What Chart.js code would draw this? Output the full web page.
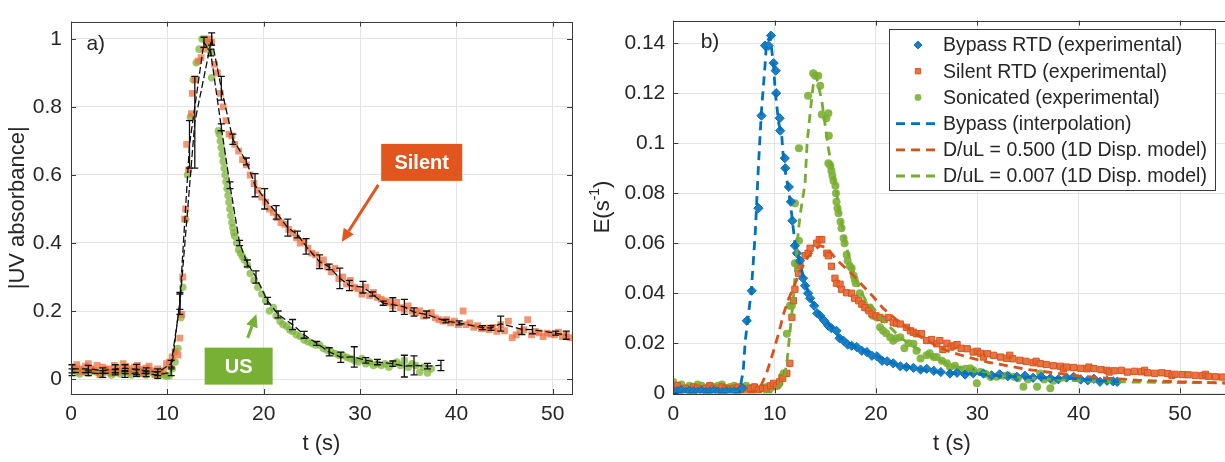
<!DOCTYPE html>
<html>
<head>
<meta charset="utf-8">
<script src="https://cdn.jsdelivr.net/npm/chart.js@4.4.1/dist/chart.umd.min.js"></script>
<style>
  html, body { margin: 0; padding: 0; background: #fff; overflow: hidden; width: 1225px; height: 462px; }
  #wrapA { position: absolute; left: 0; top: 0; }
  #wrapB { position: absolute; left: 578px; top: 0; }
</style>
</head>
<body>
<div id="wrapA"><canvas id="chartA" width="612" height="462"></canvas></div>
<div id="wrapB"><canvas id="chartB" width="662" height="462"></canvas></div>
<script>
// ---------- panel a) ----------
const xTicksA = [0, 10, 20, 30, 40, 50];
const xTickLabelsA = ['0', '10', '20', '30', '40', '50'];
const yTicksA = [0, 0.2, 0.4, 0.6, 0.8, 1];
const yTickLabelsA = ['0', '0.2', '0.4', '0.6', '0.8', '1'];

// [t, value]
const silentPtsA = [
  [0.0,0.035],[0.3,0.028],[0.6,0.042],[0.9,0.03],[1.2,0.022],[1.5,0.038],[1.8,0.045],[2.1,0.03],[2.4,0.025],[2.7,0.04],
  [3.0,0.012],[3.3,0.035],[3.6,0.028],[3.9,0.03],[4.2,0.018],[4.5,0.04],[4.8,0.032],[5.1,0.025],[5.4,0.045],[5.7,0.038],
  [6.0,0.03],[6.3,0.022],[6.6,0.035],[6.9,0.04],[7.2,0.028],[7.5,0.015],[7.8,0.032],[8.1,0.038],[8.4,0.025],[8.7,0.012],
  [9.0,0.03],[9.3,0.02],[9.6,0.025],[9.9,0.045],
  [10.2,0.05],[10.5,0.065],[10.8,0.08],[11.1,0.07],[11.3,0.12],[11.5,0.19],[11.6,0.3],[11.8,0.47],[11.9,0.5],[12.0,0.69],
  [12.2,0.615],[12.5,0.78],[12.6,0.84],[12.9,0.88],[13.2,0.935],[13.5,0.945],[13.8,0.97],[14.1,0.99],[14.4,1.0],[14.6,0.99],
  [14.9,0.925],[15.2,0.9],[15.5,0.84],[15.8,0.8],[16.1,0.76],[16.4,0.72],[16.7,0.715],[17.0,0.69],[17.4,0.67],[17.8,0.645],
  [18.2,0.63],[18.6,0.6],[19.0,0.575],[19.4,0.555],[19.8,0.535],[20.2,0.52],[20.6,0.5],[21.0,0.49],[21.4,0.475],[21.8,0.46],
  [22.2,0.455],[22.6,0.44],[23.0,0.43],[23.4,0.415],[23.8,0.4],[24.2,0.405],[24.6,0.385],[25.0,0.37],[25.4,0.365],[25.8,0.34],
  [26.2,0.35],[26.6,0.33],[27.0,0.315],[27.4,0.325],[27.8,0.295],[28.2,0.3],[28.6,0.28],[29.0,0.29],[29.4,0.27],[29.8,0.265],
  [30.2,0.25],[30.6,0.27],[31.0,0.245],[31.4,0.255],[31.8,0.24],[32.2,0.235],[32.6,0.23],[33.0,0.225],[33.4,0.215],[33.8,0.225],
  [34.2,0.21],[34.6,0.205],[35.0,0.215],[35.4,0.2],[35.8,0.195],[36.2,0.2],[36.6,0.185],[37.0,0.19],[37.4,0.195],[37.8,0.18],
  [38.2,0.175],[38.6,0.17],[39.0,0.175],[39.4,0.165],[39.8,0.17],[40.2,0.16],[40.7,0.2],[41.0,0.16],[41.4,0.165],[41.8,0.152],
  [42.2,0.157],[42.6,0.148],[43.0,0.15],[43.4,0.145],[43.8,0.152],[44.2,0.14],[44.6,0.16],[45.0,0.142],[45.4,0.17],[45.8,0.122],
  [46.2,0.13],[46.6,0.14],[47.0,0.145],[47.4,0.175],[47.8,0.13],[48.2,0.14],[48.6,0.136],[49.0,0.125],[49.4,0.135],[49.8,0.132],
  [50.2,0.13],[50.6,0.138],[51.0,0.125],[51.4,0.13],[51.8,0.122]
];

const usPtsA = [
  [0.0,0.035],[0.3,0.03],[0.6,0.02],[0.9,0.015],[1.2,0.025],[1.5,0.02],[1.8,0.018],[2.1,0.028],[2.4,0.022],[2.7,0.02],
  [3.0,0.015],[3.3,0.018],[3.6,0.025],[3.9,0.02],[4.2,0.012],[4.5,0.018],[4.8,0.022],[5.1,0.015],[5.4,0.02],[5.7,0.025],
  [6.0,0.018],[6.3,0.012],[6.6,0.02],[6.9,0.015],[7.2,0.022],[7.5,0.018],[7.8,0.012],[8.1,0.025],[8.4,0.02],[8.7,0.015],
  [9.0,0.01],[9.3,0.018],[9.6,0.012],[9.9,0.008],
  [10.2,0.01],[10.5,0.03],[10.8,0.05],[11.1,0.09],[11.4,0.18],[11.6,0.27],[11.9,0.47],[12.1,0.6],[12.4,0.77],[12.7,0.88],
  [13.0,0.93],[13.3,0.97],[13.6,1.0],[13.9,1.0],[14.2,0.98],[14.5,0.96],[14.6,0.886],[15.3,0.73],[15.4,0.72],[15.5,0.7],
  [15.6,0.68],[15.7,0.66],[15.8,0.64],[15.9,0.62],[16.0,0.6],[16.1,0.58],[16.2,0.56],[16.3,0.54],[16.4,0.52],[16.5,0.5],
  [16.6,0.48],[16.7,0.46],[16.8,0.445],[16.9,0.43],[17.0,0.42],[17.2,0.4],[17.4,0.38],[17.6,0.37],[17.8,0.36],[18.0,0.35],
  [18.3,0.335],[18.6,0.31],[19.0,0.29],[19.4,0.27],[19.8,0.25],[20.2,0.23],[20.6,0.2],[21.0,0.21],[21.3,0.185],[21.7,0.17],
  [22.0,0.16],[22.4,0.155],[22.7,0.145],[23.0,0.14],[23.4,0.13],[23.8,0.125],[24.2,0.115],[24.6,0.11],[25.0,0.105],[25.4,0.1],
  [25.8,0.1],[26.2,0.09],[26.6,0.085],[27.0,0.08],[27.4,0.075],[27.8,0.07],[28.2,0.07],[28.6,0.064],[29.0,0.06],[29.4,0.055],
  [29.8,0.05],[30.2,0.06],[30.6,0.045],[31.0,0.05],[31.4,0.04],[31.8,0.045],[32.2,0.04],[32.6,0.045],[33.0,0.035],[33.4,0.045],
  [33.8,0.05],[34.2,0.04],[34.6,0.055],[35.0,0.035],[35.4,0.045],[35.8,0.04],[36.2,0.02],[36.6,0.035],[37.0,0.018],[37.4,0.03]
];

// [t, mean, error]
const silentMeanA = [
  [0.1,0.03,0.012],[1.8,0.03,0.01],[3.3,0.025,0.008],[4.6,0.03,0.012],[5.6,0.032,0.01],[6.8,0.028,0.015],[7.8,0.025,0.008],
  [9.0,0.02,0.01],[10.4,0.045,0.01],[11.3,0.22,0.03],[12.85,0.755,0.135],[14.6,1.0,0.018],[15.6,0.855,0.035],[16.8,0.705,0.015],
  [18.2,0.64,0.01],[19.1,0.57,0.034],[20.1,0.53,0.03],[21.3,0.49,0.02],[22.5,0.445,0.025],[23.5,0.425,0.01],[24.4,0.39,0.023],
  [25.8,0.345,0.02],[26.8,0.33,0.008],[27.9,0.296,0.03],[28.9,0.275,0.015],[30.3,0.27,0.017],[31.3,0.25,0.006],[32.4,0.223,0.006],
  [33.4,0.219,0.02],[34.6,0.212,0.022],[35.6,0.197,0.012],[36.9,0.19,0.01],[38.9,0.17,0.005],[40.3,0.165,0.006],[42.7,0.151,0.006],
  [43.6,0.15,0.007],[44.6,0.163,0.022],[46.8,0.146,0.015],[47.9,0.145,0.012],[50.3,0.135,0.006],[51.4,0.129,0.012]
];
const usMeanA = [
  [0.1,0.02,0.01],[1.8,0.018,0.008],[3.3,0.015,0.01],[4.6,0.02,0.008],[5.6,0.015,0.01],[6.8,0.018,0.01],[7.8,0.015,0.008],
  [9.0,0.012,0.01],[10.4,0.02,0.01],[11.3,0.23,0.025],[12.3,0.69,0.07],[13.8,0.99,0.015],[14.5,0.96,0.01],[15.6,0.74,0.01],
  [16.5,0.57,0.01],[17.5,0.4,0.008],[18.3,0.34,0.01],[19.2,0.3,0.018],[20.4,0.23,0.01],[21.5,0.19,0.01],[23.0,0.16,0.015],
  [24.2,0.13,0.01],[25.5,0.105,0.006],[26.8,0.08,0.012],[28.0,0.064,0.015],[29.4,0.065,0.03],[30.6,0.055,0.008],[31.8,0.05,0.008],
  [33.4,0.045,0.008],[34.6,0.038,0.032],[35.6,0.04,0.028],[37.0,0.038,0.008],[38.4,0.04,0.015]
];

// ---------- panel b) ----------
const xTicksB = [0, 10, 20, 30, 40, 50];
const xTickLabelsB = ['0', '10', '20', '30', '40', '50'];
const yTicksB = [0, 0.02, 0.04, 0.06, 0.08, 0.1, 0.12, 0.14];
const yTickLabelsB = ['0', '0.02', '0.04', '0.06', '0.08', '0.1', '0.12', '0.14'];
const legendLabelsB = [
  'Bypass RTD (experimental)', 'Silent RTD (experimental)', 'Sonicated (experimental)',
  'Bypass (interpolation)', 'D/uL = 0.500 (1D Disp. model)', 'D/uL = 0.007 (1D Disp. model)'
];

const bypassPts = [
  [0,0.001],[0.4,0.0008],[0.8,0.0012],[1.2,0.0005],[1.6,0.001],[2.0,0.0008],[2.4,0.0006],[2.8,0.001],[3.2,0.0005],[3.6,0.0008],
  [4.0,0.001],[4.4,0.0006],[4.8,0.0004],[5.2,0.0008],[5.6,0.0005],[6.0,0.0007],[6.4,0.0006],
  [6.8,0.002],[7.25,0.029],[7.74,0.041],[8.4,0.074],[8.7,0.111],[9.05,0.139],[9.4,0.139],[9.64,0.143],[9.9,0.132],[10.1,0.129],
  [10.15,0.12],[10.5,0.11],[10.55,0.105],[11.0,0.094],[11.05,0.09],[11.4,0.0825],[11.6,0.0766],[11.75,0.069],[12.0,0.059],[12.2,0.056],
  [12.5,0.053],[12.8,0.046],[13.0,0.043],[13.3,0.04],[13.5,0.038],[13.9,0.035],[14.2,0.032],[14.5,0.031],[14.9,0.029],[15.3,0.027],
  [15.6,0.026],[16.1,0.025],[16.4,0.022],[16.8,0.021],[17.2,0.0195],[17.6,0.019],[18.1,0.0185],[18.6,0.017],[19.1,0.0165],[19.6,0.015],
  [20.1,0.0148],[20.6,0.013],[21.1,0.0128],[21.7,0.012],[22.4,0.0108],[23.0,0.0105],[23.7,0.0102],[24.4,0.0095],[25.0,0.0098],[25.7,0.009],
  [26.4,0.0085],[27.3,0.0079],[28.0,0.0082],[28.8,0.0075],[29.6,0.008],[30.6,0.0079],[31.4,0.0072],[32.2,0.0076],[33.0,0.0068],[33.9,0.0066],
  [34.7,0.007],[35.5,0.0062],[36.3,0.0066],[37.2,0.006],[38.0,0.0056],[38.8,0.0063],[39.5,0.0066],[40.2,0.0055],[40.9,0.0052],[41.5,0.0058],
  [42.1,0.0046],[42.8,0.005],[43.4,0.0048],[43.8,0.0046]
];
const silentPtsB = [
  [0,0.002],[0.4,0.003],[0.8,0.0015],[1.2,0.002],[1.6,0.001],[2.0,0.0025],[2.4,0.002],[2.8,0.0015],[3.2,0.002],[3.6,0.003],
  [4.0,0.002],[4.4,0.001],[4.8,0.0025],[5.2,0.002],[5.6,0.0015],[6.0,0.002],[6.4,0.0025],[6.8,0.002],[7.2,0.001],[7.6,0.002],
  [8.0,0.0025],[8.4,0.0015],[8.8,0.002],[9.2,0.002],[9.6,0.003],
  [9.9,0.004],[10.2,0.003],[10.5,0.0046],[10.8,0.006],[11.2,0.008],[11.5,0.012],[11.7,0.0304],[11.85,0.037],[12.0,0.0416],[12.35,0.048],
  [12.5,0.051],[13.0,0.055],[13.3,0.056],[13.5,0.058],[14.15,0.06],[14.4,0.0614],[14.65,0.0614],[15.15,0.056],[15.3,0.055],[15.6,0.0508],
  [15.95,0.046],[16.1,0.044],[16.45,0.0436],[16.6,0.0416],[17.1,0.0402],[17.6,0.04],[17.9,0.038],[18.3,0.037],[18.6,0.0356],[18.9,0.0343],
  [19.3,0.033],[19.6,0.0317],[20.0,0.031],[20.4,0.0303],[20.8,0.0295],[21.2,0.0303],[21.7,0.0284],[22.0,0.028],[22.4,0.0277],[23.0,0.0264],
  [23.4,0.025],[23.7,0.0244],[24.0,0.0238],[24.5,0.0238],[25.0,0.0211],[25.5,0.0215],[26.0,0.0198],[26.3,0.0211],[26.6,0.0175],[27.0,0.02],
  [27.4,0.0185],[27.7,0.019],[28.0,0.0195],[28.4,0.018],[29.0,0.0178],[29.6,0.0165],[30.0,0.0168],[30.3,0.016],[30.6,0.0145],[31.0,0.0158],
  [31.6,0.0152],[32.3,0.0145],[32.9,0.014],[33.2,0.0152],[33.5,0.0138],[34.2,0.0132],[34.8,0.0128],[35.5,0.0122],[35.8,0.0128],[36.2,0.0119],
  [36.8,0.0115],[37.5,0.011],[38.2,0.0108],[38.5,0.0098],[38.8,0.0105],[39.5,0.0103],[40.2,0.01],[40.8,0.0098],[41.0,0.0105],[41.5,0.0099],
  [42.2,0.0095],[42.8,0.0092],[43.0,0.0085],[43.5,0.009],[44.2,0.0092],[44.8,0.0085],[45.5,0.0088],[46.2,0.0086],[46.5,0.0092],[46.8,0.0082],
  [47.5,0.008],[48.2,0.0082],[48.8,0.0079],[49.2,0.0072],[49.5,0.0076],[50.2,0.0075],[50.8,0.0074],[51.5,0.0072],[52.2,0.007],[52.5,0.0076],
  [52.8,0.0068],[53.5,0.0066],[54.2,0.0065],[54.8,0.0064]
];
const sonicPts = [
  [0,0.0045],[0.4,0.003],[0.8,0.0035],[1.2,0.002],[1.6,0.003],[2.0,0.0025],[2.4,0.0035],[2.8,0.003],[3.2,0.002],[3.6,0.003],
  [4.0,0.0025],[4.4,0.003],[4.8,0.0035],[5.2,0.002],[5.6,0.0025],[6.0,0.003],[6.4,0.002],[6.8,0.0025],[7.2,0.003],[7.6,0.002],
  [8.0,0.0025],[8.4,0.0015],[8.8,0.002],[9.2,0.0025],[9.6,0.002],[10.0,0.003],[10.4,0.0035],
  [10.7,0.0066],[10.9,0.008],[11.2,0.0238],[11.5,0.035],[11.7,0.035],[12.0,0.052],[12.2,0.0515],[12.4,0.061],[12.0,0.076],[12.4,0.098],
  [13.3,0.119],[13.8,0.128],[14.0,0.127],[14.3,0.127],[14.5,0.123],[14.65,0.1115],[15.1,0.11],[15.3,0.112],[15.35,0.103],[15.3,0.092],
  [15.5,0.091],[15.6,0.089],[15.7,0.087],[15.8,0.085],[16.0,0.083],[16.05,0.08],[16.1,0.0766],[16.2,0.074],[16.3,0.072],[16.5,0.0686],
  [16.6,0.066],[16.8,0.062],[16.9,0.06],[17.1,0.0554],[17.2,0.053],[17.4,0.051],[17.6,0.05],[17.8,0.047],[17.9,0.0455],[18.0,0.044],
  [18.4,0.04],[18.8,0.036],[19.1,0.034],[19.4,0.0343],[19.7,0.031],[20.1,0.0303],[20.4,0.0264],[20.7,0.025],[21.0,0.024],[21.4,0.0224],
  [21.7,0.021],[22.0,0.022],[22.4,0.0224],[22.8,0.018],[23.2,0.02],[23.7,0.0198],[24.0,0.017],[24.4,0.0139],[25.0,0.0152],[25.3,0.016],
  [25.7,0.0145],[26.0,0.0145],[26.5,0.013],[27.0,0.012],[27.3,0.0105],[27.8,0.011],[28.3,0.0095],[28.8,0.0098],[29.3,0.01],[29.6,0.0092],
  [29.95,0.004],[30.3,0.0085],[30.8,0.0078],[31.3,0.0065],[31.9,0.0066],[32.5,0.007],[33.0,0.0072],[33.6,0.0066],[34.0,0.006],[34.55,0.0026],
  [35.0,0.0055],[35.9,0.0026],[36.2,0.0079],[36.6,0.0055],[37.2,0.002],[37.5,0.005]
];
const bypassInterp = [
  [0,0],[3,0],[6.5,0],[6.9,0.009],[7.1,0.021],[7.7,0.041],[8.1,0.065],[8.4,0.091],[8.7,0.113],[9.05,0.131],[9.2,0.14],[9.55,0.1426],
  [9.9,0.131],[10.05,0.121],[10.4,0.108],[10.7,0.103],[10.9,0.092],[11.35,0.082],[11.7,0.071],[12.0,0.06],[12.5,0.052],[13.0,0.044],
  [13.5,0.038],[14.5,0.031],[15.5,0.027],[16.5,0.022],[18,0.0185],[20,0.015],[22,0.0115],[24,0.0098],[26,0.0085],[28,0.0079],
  [30,0.0077],[33,0.0068],[36,0.0062],[39,0.006],[42,0.005],[44,0.0047]
];
const silentModel = [
  [0,0],[4,0],[8,0.0005],[8.6,0.0026],[9.2,0.008],[9.9,0.017],[10.4,0.024],[10.9,0.032],[11.4,0.038],[11.85,0.042],[12.5,0.049],
  [13.2,0.054],[13.8,0.057],[14.5,0.059],[15.2,0.058],[16.1,0.0535],[17.0,0.05],[17.8,0.047],[18.7,0.043],[19.75,0.0385],[20.7,0.034],
  [22,0.0295],[23.5,0.025],[25,0.021],[27,0.017],[29,0.0145],[31,0.0125],[33,0.011],[35,0.0095],[37.5,0.0082],[40,0.007],
  [43,0.006],[46,0.0052],[50,0.0046],[55,0.004]
];
const sonicModel = [
  [0,0],[5,0],[10,0.0003],[10.9,0.006],[11.2,0.012],[11.5,0.024],[11.85,0.038],[12.3,0.063],[12.5,0.071],[13.0,0.084],[13.2,0.1],
  [13.5,0.112],[13.8,0.123],[14.1,0.127],[14.65,0.117],[15.3,0.098],[16.0,0.083],[16.5,0.07],[17.0,0.06],[17.5,0.052],[18.0,0.046],
  [18.5,0.041],[19.0,0.037],[19.75,0.034],[20.5,0.03],[21.5,0.026],[22.5,0.022],[24,0.018],[26,0.0135],[28,0.0105],[30,0.0085],
  [33,0.0068],[36,0.0058],[40,0.005],[45,0.0045],[50,0.0043],[55,0.0042]
];

// ---------- helpers ----------
const FONT = "'Liberation Sans', Arial, Helvetica, sans-serif";
const TXT = '#262626';
const BLUE = '#0072BD', ORANGE = '#D95319', GREEN = '#77AC30';

function pts(arr) { return arr.map(p => ({ x: p[0], y: p[1] })); }

function axis(min, max, ticks, labels, size, isX, pad) {
  return {
    type: 'linear', min: min, max: max,
    grid: { color: '#e4e4e4', lineWidth: 1, drawTicks: false },
    border: { display: false },
    ticks: {
      font: { family: FONT, size: 21 }, color: TXT, padding: pad,
      maxRotation: 0, autoSkip: false,
      callback: (v, i) => labels[i]
    },
    afterBuildTicks: s => { s.ticks = ticks.map(v => ({ value: v })); },
    afterFit: s => { if (isX) s.height = size; else s.width = size; }
  };
}

// box around the plot plus inward tick marks on all four sides
const frameTicks = {
  id: 'frameTicks',
  afterDraw(chart) {
    const { ctx, chartArea: a, scales: { x, y } } = chart;
    ctx.save();
    ctx.strokeStyle = '#3a3a3a';
    ctx.lineWidth = 1;
    ctx.setLineDash([]);
    ctx.beginPath();
    x.ticks.forEach(t => {
      const px = Math.round(x.getPixelForValue(t.value)) + 0.5;
      ctx.moveTo(px, a.bottom); ctx.lineTo(px, a.bottom - 5);
      ctx.moveTo(px, a.top); ctx.lineTo(px, a.top + 5);
    });
    y.ticks.forEach(t => {
      const py = Math.round(y.getPixelForValue(t.value)) + 0.5;
      ctx.moveTo(a.left, py); ctx.lineTo(a.left + 5, py);
      ctx.moveTo(a.right, py); ctx.lineTo(a.right - 5, py);
    });
    ctx.stroke();
    ctx.strokeRect(Math.round(a.left) + 0.5, Math.round(a.top) + 0.5,
      Math.round(a.right - a.left), Math.round(a.bottom - a.top));
    ctx.restore();
  }
};

const errorBars = {
  id: 'errorBars',
  afterDatasetsDraw(chart) {
    const { ctx, scales: { x, y } } = chart;
    ctx.save();
    ctx.strokeStyle = '#111';
    ctx.lineWidth = 1.3;
    ctx.setLineDash([]);
    chart.data.datasets.forEach(ds => {
      if (!ds.errs) return;
      ds.data.forEach((p, i) => {
        const e = ds.errs[i];
        const px = x.getPixelForValue(p.x);
        const y1 = y.getPixelForValue(p.y - e), y2 = y.getPixelForValue(p.y + e);
        ctx.beginPath();
        ctx.moveTo(px, y1); ctx.lineTo(px, y2);
        ctx.moveTo(px - 3.5, y1); ctx.lineTo(px + 3.5, y1);
        ctx.moveTo(px - 3.5, y2); ctx.lineTo(px + 3.5, y2);
        ctx.stroke();
      });
    });
    ctx.restore();
  }
};

function arrow(ctx, x1, y1, x2, y2, color) {
  const ang = Math.atan2(y2 - y1, x2 - x1);
  const hl = 13, hw = 6;
  const bx = x2 - hl * Math.cos(ang), by = y2 - hl * Math.sin(ang);
  ctx.strokeStyle = color; ctx.fillStyle = color; ctx.lineWidth = 3;
  ctx.beginPath(); ctx.moveTo(x1, y1); ctx.lineTo(bx, by); ctx.stroke();
  ctx.beginPath();
  ctx.moveTo(x2, y2);
  ctx.lineTo(bx + hw * Math.sin(ang), by - hw * Math.cos(ang));
  ctx.lineTo(bx - hw * Math.sin(ang), by + hw * Math.cos(ang));
  ctx.closePath(); ctx.fill();
}

function label(ctx, text, cx, cy, w, h, color) {
  ctx.fillStyle = color;
  ctx.fillRect(cx - w / 2, cy - h / 2, w, h);
  ctx.fillStyle = '#fff';
  ctx.font = 'bold 20px ' + FONT;
  ctx.textAlign = 'center'; ctx.textBaseline = 'middle';
  ctx.fillText(text, cx, cy + 1);
}

const notesA = {
  id: 'notesA',
  afterDraw(chart) {
    const { ctx, chartArea: a, scales: { x, y } } = chart;
    ctx.save();
    ctx.fillStyle = TXT;
    ctx.font = '21px ' + FONT;
    ctx.textAlign = 'left'; ctx.textBaseline = 'middle';
    ctx.fillText('a)', x.getPixelForValue(1.6), y.getPixelForValue(0.985));
    // axis titles
    ctx.font = '22px ' + FONT;
    ctx.textAlign = 'center';
    ctx.fillText('t (s)', (a.left + a.right) / 2, 444);
    ctx.save();
    ctx.translate(a.left - 53, (a.top + a.bottom) / 2);
    ctx.rotate(-Math.PI / 2);
    ctx.fillText('|UV absorbance|', 0, 0);
    ctx.restore();
    // callouts
    arrow(ctx, x.getPixelForValue(31.9), y.getPixelForValue(0.571), x.getPixelForValue(28.1), y.getPixelForValue(0.403), '#E0561E');
    label(ctx, 'Silent', x.getPixelForValue(36.4), y.getPixelForValue(0.637), 81, 37, '#E0561E');
    arrow(ctx, x.getPixelForValue(18.34), y.getPixelForValue(0.121), x.getPixelForValue(19.24), y.getPixelForValue(0.191), '#78B035');
    label(ctx, 'US', x.getPixelForValue(17.4), y.getPixelForValue(0.038), 68, 37, '#78B035');
    ctx.restore();
  }
};

const notesB = {
  id: 'notesB',
  afterDraw(chart) {
    const { ctx, chartArea: a, scales: { x, y } } = chart;
    ctx.save();
    ctx.fillStyle = TXT;
    ctx.font = '21px ' + FONT;
    ctx.textAlign = 'left'; ctx.textBaseline = 'middle';
    ctx.fillText('b)', x.getPixelForValue(2.7), y.getPixelForValue(0.1405));
    // axis titles
    ctx.font = '22px ' + FONT;
    ctx.textAlign = 'center';
    ctx.fillText('t (s)', (a.left + a.right) / 2, 444);
    ctx.save();
    ctx.translate(a.left - 70, (a.top + a.bottom) / 2);
    ctx.rotate(-Math.PI / 2);
    const big = '22px ' + FONT, small = '14px ' + FONT;
    ctx.font = big; const w1 = ctx.measureText('E(s').width, w3 = ctx.measureText(')').width;
    ctx.font = small; const w2 = ctx.measureText('-1').width;
    let sx = -(w1 + w2 + w3) / 2;
    ctx.textAlign = 'left';
    ctx.font = big; ctx.fillText('E(s', sx, 0); sx += w1;
    ctx.font = small; ctx.fillText('-1', sx, -8); sx += w2;
    ctx.font = big; ctx.fillText(')', sx, 0);
    ctx.restore();

    // legend box
    const lx = 889 - 578, ly = 29, lw = 326, lh = 161;
    ctx.fillStyle = '#fff';
    ctx.fillRect(lx, ly, lw, lh);
    ctx.strokeStyle = '#3a3a3a'; ctx.lineWidth = 1;
    ctx.strokeRect(lx + 0.5, ly + 0.5, lw, lh);
    const ds = chart.data.datasets;
    const order = [3, 4, 5, 0, 1, 2];
    ctx.textBaseline = 'middle'; ctx.textAlign = 'left';
    legendLabelsB.forEach((txt, i) => {
      const ry = ly + 16 + i * 26.2;
      const d = ds[order[i]];
      if (i < 3) {
        ctx.fillStyle = d.backgroundColor;
        ctx.strokeStyle = d.borderColor || d.backgroundColor;
        ctx.lineWidth = d.borderWidth || 0;
        Chart.helpers.drawPoint(ctx, {
          pointStyle: d.pointStyle, radius: d.pointRadius * 0.85, borderWidth: d.borderWidth || 0, rotation: 0
        }, lx + 29, ry);
      } else {
        ctx.strokeStyle = d.borderColor; ctx.lineWidth = d.borderWidth;
        ctx.setLineDash(d.borderDash);
        ctx.beginPath(); ctx.moveTo(lx + 7, ry); ctx.lineTo(lx + 52, ry); ctx.stroke();
        ctx.setLineDash([]);
      }
      ctx.fillStyle = TXT;
      ctx.font = '19.5px ' + FONT;
      ctx.fillText(txt, lx + 54, ry + 1);
    });
    ctx.restore();
  }
};

const common = {
  responsive: false,
  animation: false,
  plugins: { legend: { display: false }, tooltip: { enabled: false } }
};

// ---------- chart a ----------
new Chart(document.getElementById('chartA'), {
  type: 'scatter',
  data: {
    datasets: [
      { label: 'Silent mean', data: pts(silentMeanA), errs: silentMeanA.map(p => p[2]), showLine: true,
        borderColor: '#111', borderWidth: 1.3, borderDash: [7, 3], pointRadius: 0, order: 0 },
      { label: 'US mean', data: pts(usMeanA), errs: usMeanA.map(p => p[2]), showLine: true,
        borderColor: '#111', borderWidth: 1.3, borderDash: [7, 3], pointRadius: 0, order: 0 },
      { label: 'Silent', data: pts(silentPtsA), pointStyle: 'rect', pointRadius: 4.8,
        backgroundColor: 'rgba(236,110,60,0.72)', borderWidth: 0, order: 1 },
      { label: 'US', data: pts(usPtsA), pointStyle: 'circle', pointRadius: 3.8,
        backgroundColor: 'rgba(122,178,52,0.72)', borderWidth: 0, order: 1 }
    ]
  },
  options: Object.assign({}, common, {
    layout: { padding: { left: 0, top: 15, right: 40, bottom: 0 } },
    scales: {
      x: axis(0, 52, xTicksA, xTickLabelsA, 68, true, 8),
      y: axis(-0.044, 1.051, yTicksA, yTickLabelsA, 71, false, 9)
    }
  }),
  plugins: [errorBars, frameTicks, notesA]
});

// ---------- chart b ----------
new Chart(document.getElementById('chartB'), {
  type: 'scatter',
  data: {
    datasets: [
      { label: legendLabelsB[3], data: pts(bypassInterp), showLine: true, borderColor: BLUE, borderWidth: 2.8,
        borderDash: [9, 6], pointRadius: 0, order: 0 },
      { label: legendLabelsB[4], data: pts(silentModel), showLine: true, borderColor: ORANGE, borderWidth: 2.8,
        borderDash: [9, 6], pointRadius: 0, order: 0 },
      { label: legendLabelsB[5], data: pts(sonicModel), showLine: true, borderColor: GREEN, borderWidth: 2.8,
        borderDash: [9, 6], pointRadius: 0, order: 0 },
      { label: legendLabelsB[0], data: pts(bypassPts), pointStyle: 'rectRot', pointRadius: 4.6,
        backgroundColor: '#1f7fc6', borderColor: BLUE, borderWidth: 1, order: 1 },
      { label: legendLabelsB[1], data: pts(silentPtsB), pointStyle: 'rect', pointRadius: 4.4,
        backgroundColor: 'rgba(230,105,55,0.92)', borderColor: ORANGE, borderWidth: 1, order: 1 },
      { label: legendLabelsB[2], data: pts(sonicPts), pointStyle: 'circle', pointRadius: 4,
        backgroundColor: 'rgba(122,176,52,0.9)', borderColor: GREEN, borderWidth: 0, order: 1 }
    ]
  },
  options: Object.assign({}, common, {
    layout: { padding: { left: 0, top: 15, right: 9.3, bottom: 0 } },
    scales: {
      x: axis(0, 55, xTicksB, xTickLabelsB, 68.7, true, 8),
      y: axis(0, 0.149, yTicksB, yTickLabelsB, 95.3, false, 8)
    }
  }),
  plugins: [frameTicks, notesB]
});
</script>
</body>
</html>
